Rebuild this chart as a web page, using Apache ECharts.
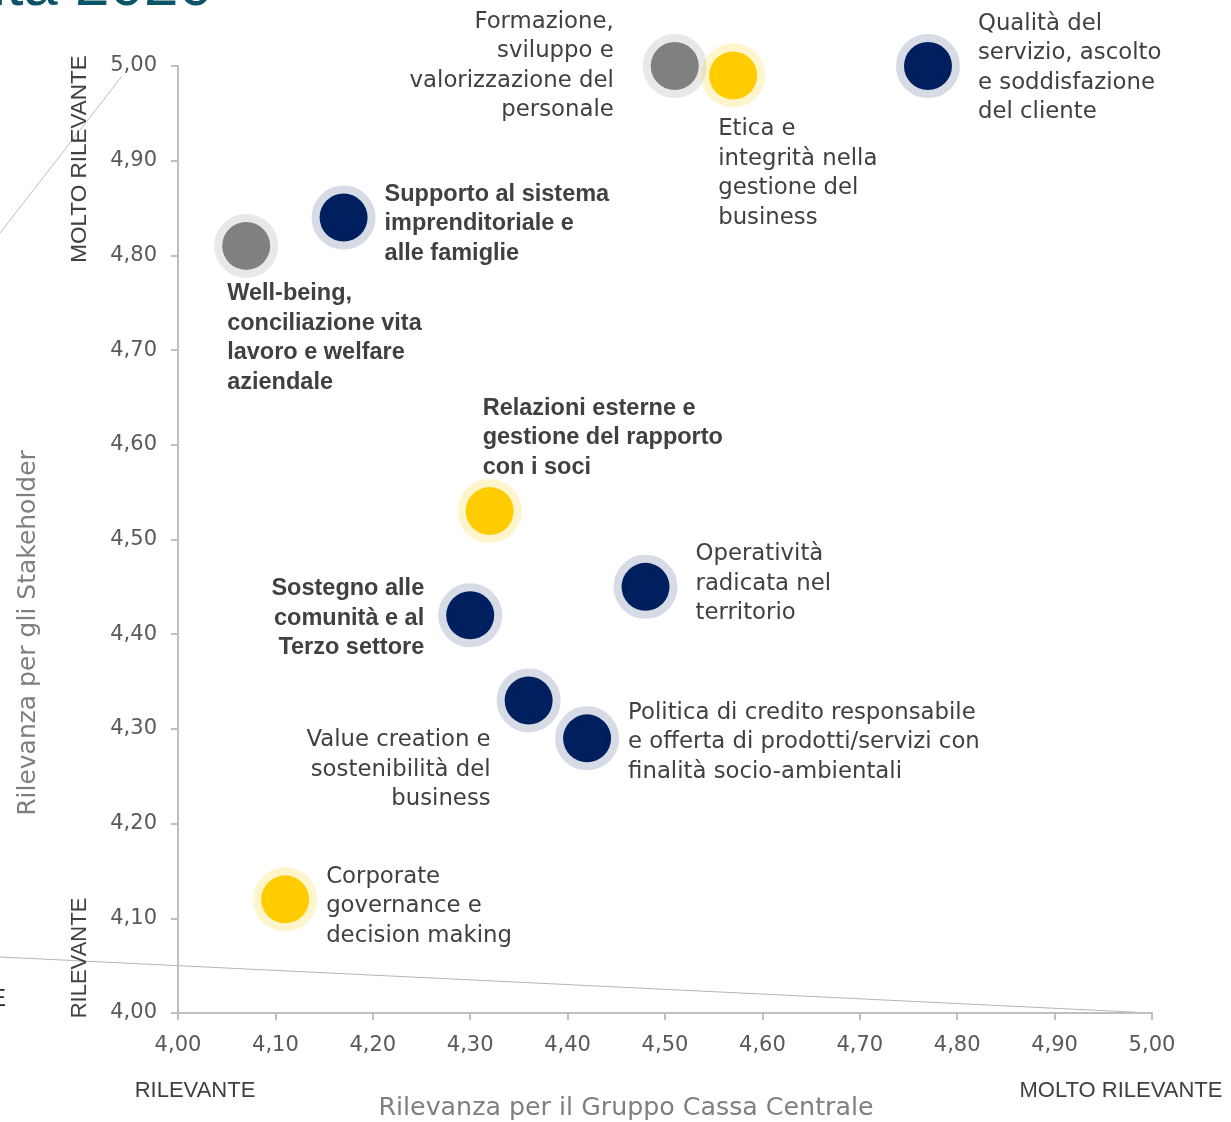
<!DOCTYPE html>
<html>
<head>
<meta charset="utf-8">
<script src="https://cdn.jsdelivr.net/npm/echarts@6/dist/echarts.min.js"></script>
<style>
  html, body { margin: 0; padding: 0; background: #ffffff; }
  #chart { width: 1231px; height: 1122px; }
</style>
</head>
<body>
<div id="chart"></div>
<script>
// Material topics: relevance for the Group (x) and for stakeholders (y)
const topics = [
  'Formazione,\nsviluppo e\nvalorizzazione del\npersonale',
  'Etica e\nintegrità nella\ngestione del\nbusiness',
  'Qualità del\nservizio, ascolto\ne soddisfazione\ndel cliente',
  'Supporto al sistema\nimprenditoriale e\nalle famiglie',
  'Well-being,\nconciliazione vita\nlavoro e welfare\naziendale',
  'Relazioni esterne e\ngestione del rapporto\ncon i soci',
  'Operatività\nradicata nel\nterritorio',
  'Sostegno alle\ncomunità e al\nTerzo settore',
  'Value creation e\nsostenibilità del\nbusiness',
  'Politica di credito responsabile\ne offerta di prodotti/servizi con\nfinalità socio-ambientali',
  'Corporate\ngovernance e\ndecision making'
];
const relevanceGroup       = [4.51, 4.57, 4.77, 4.17, 4.07, 4.32, 4.48, 4.30, 4.36, 4.42, 4.11];
const relevanceStakeholder = [5.00, 4.99, 5.00, 4.84, 4.81, 4.53, 4.45, 4.42, 4.33, 4.29, 4.12];
// topic area: 'persone' (grey), 'governance' (yellow), 'clienti' (navy)
const topicArea = ['persone', 'governance', 'clienti', 'clienti', 'persone', 'governance',
                   'clienti', 'clienti', 'clienti', 'clienti', 'governance'];
const highlighted = [false, false, false, true, true, true, false, true, false, false, false];

const xTickLabels = ['4,00','4,10','4,20','4,30','4,40','4,50','4,60','4,70','4,80','4,90','5,00'];
const yTickLabels = ['4,00','4,10','4,20','4,30','4,40','4,50','4,60','4,70','4,80','4,90','5,00'];

const FONT = '"DejaVu Sans", sans-serif';
const FONT_BOLD = '"Liberation Sans", Arial, sans-serif';
const FONT_CAPS = '"Liberation Sans", Arial, sans-serif';
const TEXT = '#404040';

const areaStyle = {
  clienti:    { color: '#002060', ring: 'rgba(0,32,96,0.16)' },
  persone:    { color: '#808080', ring: 'rgba(128,128,128,0.18)' },
  governance: { color: '#FFCC00', ring: 'rgba(255,204,0,0.20)' }
};

// label placement per topic: [align, verticalAlign, dx, dy]
const labelPlacement = [
  ['right', 'middle', -61, 0],
  ['left',  'top',    -15, 39],
  ['left',  'middle',  50, 2],
  ['left',  'middle',  41, 6],
  ['left',  'top',    -19, 33],
  ['left',  'bottom',  -7, -29],
  ['left',  'middle',  50, -3],
  ['right', 'middle', -46, 3],
  ['right', 'top',    -38, 25],
  ['left',  'middle',  41, 4],
  ['left',  'middle',  41, 7]
];

function buildSeries(area) {
  const data = [];
  topics.forEach((name, i) => {
    if (topicArea[i] !== area) return;
    const p = labelPlacement[i];
    const bold = highlighted[i];
    data.push({
      name: name,
      value: [relevanceGroup[i], relevanceStakeholder[i]],
      label: {
        show: true,
        formatter: '{b}',
        position: 'inside',
        align: p[0],
        verticalAlign: p[1],
        offset: [p[2], p[3]],
        fontFamily: bold ? FONT_BOLD : FONT,
        fontSize: bold ? 23.5 : 22.8,
        lineHeight: 29.5,
        fontWeight: bold ? 'bold' : 'normal',
        color: TEXT
      }
    });
  });
  const s = areaStyle[area];
  return {
    type: 'scatter',
    name: area,
    symbol: 'circle',
    // 48px disc plus an 8px translucent halo (border straddles the edge)
    symbolSize: 48,
    itemStyle: { color: s.color, borderColor: s.ring, borderWidth: 16, opacity: 1 },
    emphasis: { disabled: true },
    data: data
  };
}

const axisCommon = {
  type: 'value',
  min: 4.0,
  max: 5.0,
  interval: 0.1,
  axisLine: { show: true, lineStyle: { color: '#bfbfbf', width: 2 } },
  axisTick: { show: true, length: 7, lineStyle: { color: '#bfbfbf', width: 2 } },
  splitLine: { show: false }
};

const chart = echarts.init(document.getElementById('chart'), null, { renderer: 'canvas' });
chart.setOption({
  animation: false,
  backgroundColor: '#ffffff',
  grid: { left: 178, right: 79, top: 66, bottom: 109, containLabel: false, outerBoundsMode: 'none' },
  xAxis: Object.assign({}, axisCommon, {
    axisLabel: {
      margin: 22, fontFamily: FONT, fontSize: 21, color: '#595959',
      formatter: (v) => xTickLabels[Math.round((v - 4) * 10)]
    }
  }),
  yAxis: Object.assign({}, axisCommon, {
    axisLabel: {
      margin: 21, fontFamily: FONT, fontSize: 21, color: '#595959',
      formatter: (v) => yTickLabels[Math.round((v - 4) * 10)]
    }
  }),
  series: [buildSeries('persone'), buildSeries('clienti'), buildSeries('governance')],
  graphic: [
    // page title, running off the top edge
    { type: 'text', x: 213, y: -12, silent: true,
      style: { text: 'Matrice di materialità 2020', align: 'right', verticalAlign: 'middle',
               font: '62px ' + FONT_CAPS, fill: '#0b5468' } },
    // axis titles
    { type: 'text', x: 626, y: 1108, silent: true,
      style: { text: 'Rilevanza per il Gruppo Cassa Centrale', align: 'center', verticalAlign: 'middle',
               font: '25.3px ' + FONT, fill: '#7f7f7f' } },
    { type: 'text', x: 28, y: 633, rotation: Math.PI / 2, silent: true,
      style: { text: 'Rilevanza per gli Stakeholder', align: 'center', verticalAlign: 'middle',
               font: '25px ' + FONT, fill: '#7f7f7f' } },
    // decorative guide strokes
    { type: 'line', silent: true, z: -1, shape: { x1: 0, y1: 233, x2: 122, y2: 76 },
      style: { stroke: '#bdbdbd', lineWidth: 1 } },
    { type: 'line', silent: true, z: -1, shape: { x1: 0, y1: 957, x2: 1152, y2: 1013 },
      style: { stroke: '#b5b5b5', lineWidth: 1.2 } },
    { type: 'text', x: 6, y: 999, silent: true,
      style: { text: 'E', align: 'right', verticalAlign: 'middle', font: '24px ' + FONT_CAPS, fill: '#262626' } },
    // qualitative scale hints
    { type: 'text', x: 80, y: 159, rotation: Math.PI / 2, silent: true,
      style: { text: 'MOLTO RILEVANTE', align: 'center', verticalAlign: 'middle', font: '22.5px ' + FONT_CAPS, fill: TEXT } },
    { type: 'text', x: 80, y: 958, rotation: Math.PI / 2, silent: true,
      style: { text: 'RILEVANTE', align: 'center', verticalAlign: 'middle', font: '22px ' + FONT_CAPS, fill: TEXT } },
    { type: 'text', x: 195, y: 1091, silent: true,
      style: { text: 'RILEVANTE', align: 'center', verticalAlign: 'middle', font: '22px ' + FONT_CAPS, fill: TEXT } },
    { type: 'text', x: 1121, y: 1091, silent: true,
      style: { text: 'MOLTO RILEVANTE', align: 'center', verticalAlign: 'middle', font: '22px ' + FONT_CAPS, fill: TEXT } }
  ]
});
</script>
</body>
</html>
